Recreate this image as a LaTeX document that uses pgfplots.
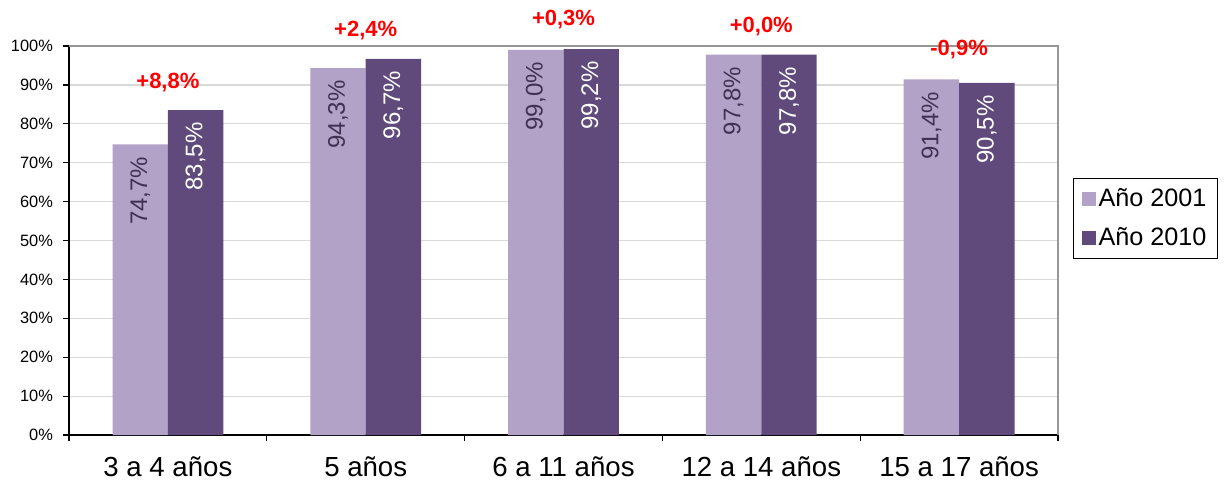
\documentclass[border=0pt]{standalone}
\usepackage{pgfplots}
\pgfplotsset{compat=1.18}
\usepackage{fontspec}
\setmainfont{Liberation Sans}
\definecolor{light}{RGB}{178,162,199}
\definecolor{dark}{RGB}{96,74,123}
\definecolor{lbltxt}{RGB}{64,49,82}
\definecolor{gridc}{RGB}{217,217,217}
\definecolor{framec}{RGB}{150,150,150}
\begin{document}
\begin{tikzpicture}
\path[use as bounding box] (-34.5pt,-24.5pt) rectangle (577.5pt,217.5pt);
\begin{axis}[
  at={(0pt,0pt)}, anchor=south west,
  scale only axis, width=494.5pt, height=194.5pt,
  ybar, bar width=0.28,
  xmin=-0.5, xmax=4.5, ymin=0, ymax=100,
  enlargelimits=false, clip=false,
  axis lines=left, axis line style={-, black, line width=0.8pt},
  xtick={0,1,2,3,4},
  xticklabels={3 a 4 años, 5 años, 6 a 11 años, 12 a 14 años, 15 a 17 años},
  minor xtick={-0.5,0.5,1.5,2.5,3.5,4.5},
  ytick={0,10,20,30,40,50,60,70,80,90,100},
  yticklabels={0\%,10\%,20\%,30\%,40\%,50\%,60\%,70\%,80\%,90\%,100\%},
  tick align=outside, major tick length=3pt, minor tick length=3pt,
  major x tick style=transparent,
  minor x tick style={black, line width=0.6pt},
  major y tick style={black, line width=0.6pt},
  ymajorgrids, major grid style={gridc, line width=0.6pt},
  xticklabel style={font=\fontsize{13.8}{15}\selectfont, yshift=-4.5pt},
  yticklabel style={font=\fontsize{8.2}{10}\selectfont, xshift=-1.5pt},
  nodes near coords={\pgfmathprintnumber[fixed, fixed zerofill, precision=1, use comma, assume math mode=true]{\pgfplotspointmeta}\%},
  every node near coord/.append style={font=\fontsize{12}{13}\selectfont, yshift=-5pt, rotate=90, anchor=east, inner sep=1pt},
  legend style={at={(1.0152,0.661)}, anchor=north west, draw=black, line width=0.6pt,
    font=\fontsize{12.6}{14}\selectfont, inner xsep=4pt, inner ysep=3pt, row sep=5pt,
    nodes={inner xsep=1.5pt}},
  legend cell align=left,
  legend image code/.code={\fill[#1,draw=none] (0pt,-3.4pt) rectangle (7pt,3.6pt);},
]
\addplot[fill=light, draw=none, bar shift=-0.14, every node near coord/.append style={text=lbltxt}]
  coordinates {(0,74.7) (1,94.3) (2,99.0) (3,97.8) (4,91.4)};
\addplot[fill=dark, draw=none, bar shift=0.14, every node near coord/.append style={text=white}]
  coordinates {(0,83.5) (1,96.7) (2,99.2) (3,97.8) (4,90.5)};
\legend{Año 2001, Año 2010}
\draw[framec, line width=0.8pt] (rel axis cs:0,1) -- (rel axis cs:1,1) -- (rel axis cs:1,0);
\begin{scope}[every node/.style={font=\bfseries\fontsize{11}{13}\selectfont, text=red}]
\node at (axis cs:0,90.5) {+8,8\%};
\node at (axis cs:1,104.1) {+2,4\%};
\node at (axis cs:2,106.9) {+0,3\%};
\node at (axis cs:3,104.9) {+0,0\%};
\node at (axis cs:4,99.0) {-0,9\%};
\end{scope}
\end{axis}
\end{tikzpicture}
\end{document}
